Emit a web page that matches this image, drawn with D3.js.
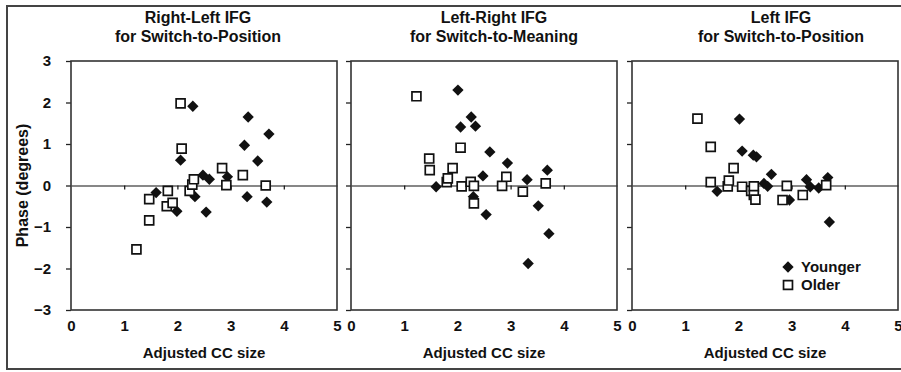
<!DOCTYPE html>
<html>
<head>
<meta charset="utf-8">
<script src="https://cdn.jsdelivr.net/npm/d3@7"></script>
<style>
  body { margin: 0; background: #fff; }
  svg { display: block; font-family: "Liberation Sans", Arial, sans-serif; }
</style>
</head>
<body>
<script>
// tick values
var xTicks = [0, 1, 2, 3, 4, 5];
var yTicks = [-3, -2, -1, 0, 1, 2, 3];

// panel titles
var titles = [
  ['Right-Left IFG', 'for Switch-to-Position'],
  ['Left-Right IFG', 'for Switch-to-Meaning'],
  ['Left IFG', 'for Switch-to-Position']
];
var seriesNames = ['Younger', 'Older'];

// panel 1
var p1YoungerX = [1.60, 1.99, 2.06, 2.29, 2.33, 2.48, 2.54, 2.60, 2.94, 3.26, 3.31, 3.33, 3.51, 3.68, 3.72];
var p1YoungerY = [-0.17, -0.62, 0.61, 1.91, -0.27, 0.25, -0.64, 0.15, 0.21, 0.97, -0.27, 1.65, 0.59, -0.40, 1.24];
var p1OlderX = [1.23, 1.47, 1.47, 1.80, 1.82, 1.91, 2.06, 2.08, 2.23, 2.28, 2.31, 2.84, 2.92, 3.23, 3.66];
var p1OlderY = [-1.54, -0.84, -0.33, -0.50, -0.13, -0.42, 1.98, 0.89, -0.13, 0.02, 0.15, 0.42, 0.01, 0.25, 0.00];

// panel 2
var p2YoungerX = [1.60, 2.01, 2.06, 2.26, 2.30, 2.34, 2.48, 2.54, 2.61, 2.94, 3.31, 3.33, 3.52, 3.69, 3.72];
var p2YoungerY = [-0.03, 2.30, 1.41, 1.65, -0.27, 1.43, 0.23, -0.70, 0.81, 0.54, 0.14, -1.88, -0.49, 0.37, -1.16];
var p2OlderX = [1.23, 1.47, 1.48, 1.80, 1.82, 1.91, 2.06, 2.08, 2.25, 2.31, 2.31, 2.84, 2.92, 3.23, 3.66];
var p2OlderY = [2.15, 0.65, 0.37, 0.08, 0.17, 0.42, 0.91, -0.02, 0.09, -0.01, -0.43, -0.01, 0.21, -0.15, 0.05];

// panel 3
var p3YoungerX = [1.60, 2.02, 2.07, 2.28, 2.34, 2.48, 2.55, 2.62, 2.96, 3.28, 3.35, 3.51, 3.68, 3.71];
var p3YoungerY = [-0.14, 1.60, 0.83, 0.73, 0.69, 0.05, -0.02, 0.27, -0.35, 0.14, -0.03, -0.06, 0.19, -0.88];
var p3OlderX = [1.23, 1.48, 1.48, 1.80, 1.82, 1.91, 2.07, 2.24, 2.29, 2.29, 2.32, 2.83, 2.91, 3.21, 3.65];
var p3OlderY = [1.61, 0.93, 0.08, -0.02, 0.12, 0.42, -0.03, -0.13, -0.02, -0.23, -0.34, -0.35, -0.01, -0.23, 0.01];

var panels = [
  { young: [p1YoungerX, p1YoungerY], old: [p1OlderX, p1OlderY] },
  { young: [p2YoungerX, p2YoungerY], old: [p2OlderX, p2OlderY] },
  { young: [p3YoungerX, p3YoungerY], old: [p3OlderX, p3OlderY] }
];

var W = 901, H = 372;
var lefts = [71, 351, 632];
var titleCx = [198, 494, 781];
var pw = 266, plotTop = 61, plotBottom = 310;
var ink = '#111';

var svg = d3.select('body').append('svg')
    .attr('width', W)
    .attr('height', H);

// outer frame
svg.append('rect')
    .attr('x', 7).attr('y', 6)
    .attr('width', W + 10).attr('height', 363)
    .attr('fill', 'none')
    .attr('stroke', '#444')
    .attr('stroke-width', 2);

var y = d3.scaleLinear().domain([-3, 3]).range([plotBottom, plotTop]);

var diamond = d3.symbol().type(d3.symbolSquare).size(64);
var square = d3.symbol().type(d3.symbolSquare).size(80);

function zip(xs, ys) {
  return xs.map(function (v, i) { return [v, ys[i]]; });
}

panels.forEach(function (p, i) {
  var x = d3.scaleLinear().domain([0, 5]).range([lefts[i], lefts[i] + pw]);
  var g = svg.append('g');

  // title
  titles[i].forEach(function (t, k) {
    g.append('text')
        .attr('x', titleCx[i])
        .attr('y', 23 + k * 19)
        .attr('text-anchor', 'middle')
        .attr('font-size', 16)
        .attr('font-weight', 'bold')
        .attr('fill', ink)
        .text(t);
  });

  // y axis ticks (outward)
  var yAxis = g.append('g')
      .attr('transform', 'translate(' + lefts[i] + ',0)')
      .call(d3.axisLeft(y).tickValues(yTicks).tickSize(5).tickSizeOuter(0)
        .tickPadding(i === 0 ? 15 : 3)
        .tickFormat(i === 0 ? d3.format('d') : ''));
  yAxis.select('.domain').remove();
  yAxis.selectAll('line').attr('stroke', '#222').attr('stroke-width', 1.3);
  yAxis.selectAll('text')
      .attr('font-size', 15)
      .attr('font-weight', 'bold')
      .attr('font-family', '"Liberation Sans", Arial, sans-serif')
      .attr('fill', ink);

  // zero line with ticks below
  var zAxis = g.append('g')
      .attr('transform', 'translate(0,' + y(0) + ')')
      .call(d3.axisBottom(x).tickValues([1, 2, 3, 4]).tickSize(4).tickSizeOuter(0).tickFormat(''));
  zAxis.select('.domain').attr('stroke', '#111').attr('stroke-width', 1.2);
  zAxis.selectAll('line').attr('stroke', '#111').attr('stroke-width', 1.2);

  // x tick labels at bottom
  var xAxis = g.append('g')
      .attr('transform', 'translate(0,' + plotBottom + ')')
      .call(d3.axisBottom(x).tickValues(xTicks).tickSize(0).tickPadding(10).tickFormat(d3.format('d')));
  xAxis.select('.domain').remove();
  xAxis.selectAll('text')
      .attr('font-size', 15)
      .attr('font-weight', 'bold')
      .attr('font-family', '"Liberation Sans", Arial, sans-serif')
      .attr('fill', ink);

  // plot frame
  g.append('rect')
      .attr('x', lefts[i]).attr('y', plotTop)
      .attr('width', pw).attr('height', plotBottom - plotTop)
      .attr('fill', 'none')
      .attr('stroke', '#333')
      .attr('stroke-width', 1.6);

  // x axis title
  g.append('text')
      .attr('x', lefts[i] + pw / 2)
      .attr('y', 358)
      .attr('text-anchor', 'middle')
      .attr('font-size', 15)
      .attr('font-weight', 'bold')
      .attr('fill', ink)
      .text('Adjusted CC size');

  // younger: filled diamonds
  g.selectAll('.young').data(zip(p.young[0], p.young[1])).enter().append('path')
      .attr('class', 'young')
      .attr('d', diamond)
      .attr('transform', function (d) { return 'translate(' + x(d[0]) + ',' + y(d[1]) + ') rotate(45)'; })
      .attr('fill', '#111');

  // older: open squares
  g.selectAll('.old').data(zip(p.old[0], p.old[1])).enter().append('path')
      .attr('class', 'old')
      .attr('d', square)
      .attr('transform', function (d) { return 'translate(' + x(d[0]) + ',' + y(d[1]) + ')'; })
      .attr('fill', '#fff')
      .attr('stroke', '#111')
      .attr('stroke-width', 1.7);
});

// y axis label
svg.append('text')
    .attr('transform', 'translate(28,' + y(0) + ') rotate(-90)')
    .attr('text-anchor', 'middle')
    .attr('font-size', 16)
    .attr('font-weight', 'bold')
    .attr('fill', ink)
    .text('Phase (degrees)');

// legend
var legend = svg.append('g').attr('transform', 'translate(788,267)');
legend.append('path')
    .attr('d', diamond)
    .attr('transform', 'rotate(45)')
    .attr('fill', '#111');
legend.append('path')
    .attr('d', square)
    .attr('transform', 'translate(0,18)')
    .attr('fill', '#fff')
    .attr('stroke', '#111')
    .attr('stroke-width', 1.7);
legend.selectAll('text').data(seriesNames).enter().append('text')
    .attr('x', 13)
    .attr('y', function (d, i) { return i * 18 + 5; })
    .attr('font-size', 15)
    .attr('font-weight', 'bold')
    .attr('fill', ink)
    .text(function (d) { return d; });
</script>
</body>
</html>
